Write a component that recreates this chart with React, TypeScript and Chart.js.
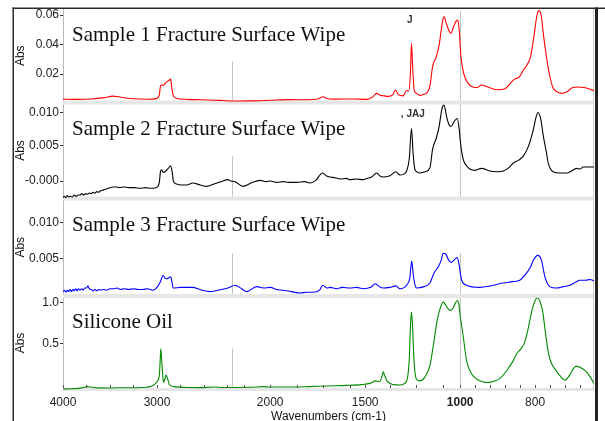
import React, { useEffect, useRef } from 'react';
import { Chart, LinearScale, registerables } from 'chart.js';

Chart.register(...registerables);

// ---------------- data ----------------
const PANEL_TITLES = [
  'Sample 1 Fracture Surface Wipe',
  'Sample 2 Fracture Surface Wipe',
  'Sample 3 Fracture Surface Wipe',
  'Silicone Oil',
];

const X_TITLE = 'Wavenumbers (cm-1)';
const Y_TITLE = 'Abs';

const X_TICKS = [4000, 3750, 3500, 3250, 3000, 2750, 2500, 2250, 2140, 2000, 1860, 1720, 1580, 1500, 1370, 1230, 1090, 1000, 960, 920, 880, 840, 800, 760, 720, 680];
const X_LABELS = [4000, 3000, 2000, 1500, 1000, 800];

const Y_TICKS = [
  [0.02, 0.04, 0.06],
  [-0.0003, 0.005, 0.01],
  [0.005, 0.01],
  [0.5, 1.0],
];
const Y_TICK_LABELS = [
  ['0.02', '0.04', '0.06'],
  ['-0.000', '0.005', '0.010'],
  ['0.005', '0.010'],
  ['0.5', '1.0'],
];
const Y_MIN = [0.00068, -0.00293, -0.00032, -0.061];
const Y_MAX = [0.06407, 0.0115, 0.01341, 1.085];

const ANNOTATIONS = [
  { panel: 0, text: 'J', wavenumber: 1280 },
  { panel: 1, text: ', JAJ', wavenumber: 1312 },
];

const SAMPLE1: [number, number][] = [
  [4000, 0.003], [3850, 0.0028], [3700, 0.0031], [3560, 0.004], [3470, 0.005], [3380, 0.0042], [3250, 0.0032],
  [3100, 0.0029], [3010, 0.0033], [2975, 0.006], [2962, 0.012], [2950, 0.0125], [2935, 0.0122], [2900, 0.0145],
  [2870, 0.0158], [2855, 0.0165], [2845, 0.012], [2830, 0.006], [2810, 0.004], [2750, 0.003], [2600, 0.0026],
  [2450, 0.0024], [2300, 0.002], [2200, 0.0017], [2100, 0.0018], [2000, 0.0022], [1900, 0.0026], [1800, 0.0025],
  [1750, 0.003], [1722, 0.0046], [1705, 0.0036], [1660, 0.003], [1560, 0.0031], [1490, 0.0028], [1460, 0.0045],
  [1440, 0.0069], [1420, 0.0055], [1400, 0.0052], [1380, 0.0048], [1355, 0.006], [1340, 0.0092], [1325, 0.006],
  [1300, 0.0052], [1282, 0.0088], [1270, 0.0085], [1262, 0.02], [1256, 0.0408], [1250, 0.025], [1242, 0.009],
  [1229, 0.0069], [1212, 0.0055], [1190, 0.0062], [1170, 0.008], [1159, 0.012], [1145, 0.025], [1125, 0.032],
  [1110, 0.04], [1097, 0.052], [1085, 0.0589], [1072, 0.054], [1058, 0.049], [1048, 0.0476], [1035, 0.052],
  [1020, 0.056], [1012, 0.0566], [1005, 0.05], [998, 0.032], [990, 0.02], [980, 0.014], [965, 0.011],
  [955, 0.0108], [943, 0.0125], [925, 0.011], [900, 0.0093], [880, 0.01], [865, 0.014], [855, 0.0165],
  [842, 0.018], [832, 0.0225], [822, 0.026], [812, 0.032], [803, 0.046], [795, 0.06], [790, 0.063],
  [784, 0.06], [778, 0.047], [770, 0.032], [762, 0.02], [753, 0.011], [740, 0.0078], [729, 0.0069],
  [715, 0.008], [700, 0.0108], [685, 0.0112], [670, 0.0108], [655, 0.0098], [643, 0.0087],
];

const SAMPLE2: [number, number][] = [
  [4000, -0.0028], [3985, -0.0026], [3970, -0.0028], [3955, -0.0025], [3940, -0.0027], [3920, -0.0026],
  [3900, -0.0027], [3880, -0.0024], [3860, -0.0026], [3840, -0.0024], [3819, -0.0024], [3800, -0.0022],
  [3780, -0.0024], [3760, -0.0022], [3740, -0.0023], [3720, -0.0021], [3700, -0.0022], [3680, -0.002],
  [3660, -0.0021], [3640, -0.0019], [3620, -0.002], [3606, -0.0018], [3580, -0.0017], [3560, -0.0016],
  [3540, -0.0015], [3500, -0.0013], [3468, -0.0012], [3430, -0.0012], [3400, -0.0013], [3350, -0.0012],
  [3300, -0.0013], [3240, -0.0013], [3181, -0.0014], [3120, -0.0013], [3074, -0.0014], [3010, -0.0013],
  [2975, -0.0005], [2962, 0.0012], [2950, 0.0014], [2935, 0.001], [2915, 0.0011], [2880, 0.0016],
  [2856, 0.002], [2840, 0.0012], [2824, -0.0004], [2800, -0.0007], [2740, -0.0009], [2684, -0.0009],
  [2617, -0.0006], [2540, -0.0009], [2471, -0.0011], [2400, -0.0008], [2320, -0.0004], [2245, -0.0001],
  [2215, -0.0003], [2185, -0.0004], [2143, -0.0011], [2100, -0.0006], [2054, -0.0002], [2020, -0.0004],
  [2000, -0.0003], [1965, -0.0005], [1933, -0.0004], [1900, -0.0005], [1860, -0.0005], [1820, -0.0004],
  [1791, -0.0006], [1760, -0.0002], [1724, 0.0009], [1705, 0.0005], [1685, 0.0003], [1660, 0.0002],
  [1630, 0.0], [1600, 0.0001], [1580, -0.0001], [1545, 0.0], [1512, -0.0001], [1490, 0.0001],
  [1466, 0.0003], [1439, 0.0009], [1420, 0.0004], [1406, 0.0003], [1370, 0.0005], [1338, 0.0011],
  [1317, 0.0006], [1300, 0.0007], [1282, 0.0012], [1268, 0.003], [1256, 0.0076], [1248, 0.004],
  [1238, 0.0014], [1229, 0.0011], [1212, 0.0009], [1185, 0.0011], [1159, 0.0017], [1145, 0.0045],
  [1125, 0.0062], [1110, 0.008], [1097, 0.0104], [1085, 0.0111], [1070, 0.0092], [1058, 0.0081],
  [1048, 0.0079], [1030, 0.0087], [1015, 0.0091], [1005, 0.0075], [999, 0.0054], [992, 0.003],
  [983, 0.002], [974, 0.0015], [960, 0.0013], [943, 0.0016], [921, 0.0012], [900, 0.0011], [885, 0.0012],
  [870, 0.0017], [858, 0.0024], [845, 0.0028], [832, 0.0034], [818, 0.0049], [805, 0.0074], [798, 0.0092],
  [792, 0.01], [785, 0.009], [778, 0.0064], [770, 0.004], [765, 0.0024], [752, 0.0011], [735, 0.0009],
  [716, 0.0009], [700, 0.0013], [689, 0.0016], [680, 0.0015], [672, 0.0018], [660, 0.0018], [643, 0.0018],
];

const SAMPLE3: [number, number][] = [
  [4000, 0.0003], [3985, 0.0005], [3970, 0.0002], [3955, 0.0005], [3940, 0.0003], [3925, 0.0006],
  [3910, 0.0003], [3895, 0.0006], [3880, 0.0004], [3865, 0.0007], [3851, 0.0004], [3835, 0.0007],
  [3820, 0.0005], [3800, 0.0007], [3785, 0.0005], [3770, 0.0008], [3750, 0.0008], [3734, 0.0011],
  [3720, 0.0007], [3700, 0.0006], [3680, 0.0004], [3660, 0.0006], [3640, 0.0004], [3620, 0.0006],
  [3600, 0.0005], [3570, 0.0006], [3540, 0.0005], [3500, 0.0007], [3460, 0.0007], [3426, 0.0008],
  [3390, 0.0006], [3350, 0.0007], [3300, 0.0006], [3250, 0.0007], [3200, 0.0006], [3150, 0.0006],
  [3100, 0.0007], [3043, 0.0005], [3000, 0.0009], [2960, 0.0018], [2936, 0.0026], [2915, 0.0022],
  [2894, 0.0021], [2870, 0.0023], [2854, 0.0024], [2840, 0.0016], [2827, 0.0008], [2750, 0.0009],
  [2617, 0.0009], [2520, 0.0005], [2436, 0.0003], [2350, 0.0005], [2245, 0.0008], [2185, 0.0012],
  [2150, 0.0007], [2124, 0.0003], [2071, 0.001], [2035, 0.0008], [2000, 0.0009], [1965, 0.0006],
  [1933, 0.0005], [1890, 0.0003], [1843, 0.0001], [1810, 0.0002], [1775, 0.0002], [1740, 0.0005],
  [1724, 0.0012], [1700, 0.0008], [1685, 0.0009], [1650, 0.0007], [1620, 0.0009], [1580, 0.0008],
  [1545, 0.0009], [1512, 0.0007], [1470, 0.0009], [1448, 0.0014], [1420, 0.0009], [1406, 0.0008],
  [1370, 0.0009], [1338, 0.0011], [1317, 0.0007], [1282, 0.0012], [1265, 0.0022], [1255, 0.0046],
  [1246, 0.0025], [1235, 0.001], [1229, 0.0008], [1190, 0.001], [1159, 0.0015], [1138, 0.0029],
  [1115, 0.0038], [1100, 0.0047], [1089, 0.0057], [1076, 0.0056], [1062, 0.0048], [1048, 0.0044],
  [1030, 0.0048], [1015, 0.0051], [1005, 0.004], [996, 0.0019], [983, 0.0012], [947, 0.0009],
  [920, 0.0011], [886, 0.0015], [860, 0.0017], [841, 0.0019], [823, 0.0029], [812, 0.0038], [805, 0.0047],
  [793, 0.0054], [783, 0.0047], [774, 0.0024], [761, 0.001], [743, 0.0008], [725, 0.001], [707, 0.0012],
  [690, 0.0017], [681, 0.0019], [665, 0.0019], [654, 0.002], [643, 0.0018],
];

const SILICONE: [number, number][] = [
  [4000, -0.049], [3900, -0.045], [3800, -0.035], [3745, -0.02], [3690, -0.028], [3638, -0.035],
  [3500, -0.036], [3319, -0.033], [3149, -0.03], [3043, -0.005], [3000, 0.04], [2975, 0.12], [2966, 0.3],
  [2960, 0.44], [2953, 0.35], [2944, 0.2], [2930, 0.03], [2915, 0.08], [2905, 0.12], [2890, 0.09],
  [2870, 0.01], [2820, -0.02], [2684, -0.03], [2543, -0.032], [2400, -0.025], [2300, -0.03], [2200, -0.03],
  [2100, -0.028], [2040, -0.02], [2000, -0.025], [1900, -0.025], [1800, -0.02], [1700, -0.012],
  [1597, -0.005], [1520, 0.005], [1475, 0.02], [1445, 0.05], [1425, 0.04], [1412, 0.1], [1405, 0.16],
  [1398, 0.12], [1385, 0.05], [1360, 0.01], [1317, 0.0], [1291, 0.02], [1268, 0.3], [1262, 0.7],
  [1256, 0.89], [1250, 0.7], [1244, 0.35], [1236, 0.12], [1225, 0.06], [1212, 0.05], [1195, 0.07],
  [1180, 0.12], [1159, 0.24], [1140, 0.5], [1120, 0.8], [1100, 0.97], [1088, 1.01], [1075, 0.97],
  [1060, 0.92], [1048, 0.91], [1035, 0.95], [1022, 1.01], [1015, 1.03], [1008, 1.0], [1000, 0.85],
  [992, 0.6], [983, 0.3], [970, 0.14], [955, 0.07], [940, 0.04], [929, 0.03], [913, 0.04], [894, 0.08],
  [875, 0.18], [858, 0.3], [848, 0.39], [838, 0.44], [828, 0.52], [818, 0.7], [808, 0.92], [800, 1.03],
  [795, 1.06], [788, 1.03], [780, 0.9], [772, 0.62], [765, 0.4], [758, 0.28], [748, 0.2], [735, 0.12],
  [720, 0.06], [708, 0.12], [698, 0.2], [690, 0.23], [678, 0.21], [663, 0.16], [652, 0.09], [643, 0.02],
];

const SERIES = [SAMPLE1, SAMPLE2, SAMPLE3, SILICONE];
const COLORS = ['#ff0000', '#000000', '#0000ff', '#008a00'];

// ---------------- split wavenumber scale ----------------
const X_MIN = 643;
const X_MAX = 4000;
const SEGMENTS = [
  { from: 4000, to: 2200, density: 0.094 },
  { from: 2200, to: 1000, density: 0.19 },
  { from: 1000, to: 643, density: 0.375 },
];

function toU(w: number): number {
  let u = 0;
  for (let i = 0; i < SEGMENTS.length; i++) {
    const s = SEGMENTS[i];
    if (w >= s.to || i === SEGMENTS.length - 1) return u + (s.from - w) * s.density;
    u += (s.from - s.to) * s.density;
  }
  return u;
}
function fromU(u: number): number {
  for (let i = 0; i < SEGMENTS.length; i++) {
    const s = SEGMENTS[i];
    const len = (s.from - s.to) * s.density;
    if (u <= len || i === SEGMENTS.length - 1) return s.from - u / s.density;
    u -= len;
  }
  return X_MIN;
}

class PiecewiseScale extends LinearScale {
  static id = 'piecewise';
  static defaults = LinearScale.defaults;
  getPixelForValue(value: number) {
    const u0 = toU(this.max);
    const u1 = toU(this.min);
    return this.getPixelForDecimal((toU(value) - u0) / (u1 - u0));
  }
  getValueForPixel(pixel: number) {
    const u0 = toU(this.max);
    const u1 = toU(this.min);
    return fromU(u0 + this.getDecimalForPixel(pixel) * (u1 - u0));
  }
}
Chart.register(PiecewiseScale as any);

const PANEL_IDS = ['y1', 'y2', 'y3', 'y4'];
const PANEL_WEIGHTS = [93.5, 96, 97.5, 94];
const BREAK_START = 0.56;

const decor = {
  id: 'decor',
  beforeDatasetsDraw(chart: any) {
    const { ctx, chartArea, scales } = chart;
    const x = scales.x;
    ctx.save();
    ctx.fillStyle = '#e6e6e6';
    PANEL_IDS.forEach((id, i) => {
      const s = scales[id];
      if (i < PANEL_IDS.length - 1) ctx.fillRect(chartArea.left, s.bottom - 2, chartArea.right - chartArea.left, 4);
    });
    ctx.fillRect(chartArea.left, chartArea.bottom - 2, chartArea.right - chartArea.left, 3);
    ctx.strokeStyle = '#c4c4c4';
    ctx.lineWidth = 1;
    const p2200 = Math.round(x.getPixelForValue(2200)) + 0.5;
    const p1000 = Math.round(x.getPixelForValue(1000)) + 0.5;
    PANEL_IDS.forEach((id, i) => {
      const s = scales[id];
      const h = s.bottom - s.top;
      ctx.beginPath();
      ctx.moveTo(p2200, s.top + h * BREAK_START);
      ctx.lineTo(p2200, s.bottom - 2);
      ctx.moveTo(p1000, s.top + (i === 2 ? h * BREAK_START : 2));
      ctx.lineTo(p1000, s.bottom - 2);
      ctx.stroke();
    });
    ctx.strokeStyle = '#d0d0d0';
    ctx.beginPath();
    ctx.moveTo(chartArea.right - 0.5, chartArea.top);
    ctx.lineTo(chartArea.right - 0.5, chartArea.bottom);
    ctx.stroke();
    ctx.restore();
  },
  afterDraw(chart: any) {
    const { ctx, chartArea, scales } = chart;
    const x = scales.x;
    ctx.save();
    // inward tick marks on the wavenumber axis
    ctx.strokeStyle = '#555';
    ctx.lineWidth = 1;
    ctx.beginPath();
    X_TICKS.forEach((v) => {
      const px = Math.round(x.getPixelForValue(v)) + 0.5;
      ctx.moveTo(px, chartArea.bottom - 2);
      ctx.lineTo(px, chartArea.bottom - 5);
    });
    ctx.stroke();
    // panel titles
    ctx.fillStyle = '#111';
    ctx.font = '21px "Liberation Serif", "Times New Roman", serif';
    ctx.textBaseline = 'alphabetic';
    ctx.textAlign = 'left';
    PANEL_IDS.forEach((id, i) => {
      const s = scales[id];
      ctx.fillText(PANEL_TITLES[i], chartArea.left + 9, s.top + 32);
    });
    // small annotations
    ctx.fillStyle = '#333';
    ctx.font = 'bold 10px "Liberation Sans", Arial, sans-serif';
    ANNOTATIONS.forEach((a) => {
      const s = scales[PANEL_IDS[a.panel]];
      ctx.fillText(a.text, x.getPixelForValue(a.wavenumber), s.top + 14);
    });
    // frame
    ctx.fillStyle = '#2a2a2a';
    ctx.fillRect(12.5, 7.5, 1.5, chart.height - 7.5);
    ctx.fillRect(12.5, 7.5, chart.width - 10, 1.5);
    ctx.fillStyle = '#222';
    ctx.fillRect(chartArea.right + 1, 7.5, 3, chart.height - 7.5);
    ctx.restore();
  },
};

function yScale(i: number) {
  return {
    type: 'linear',
    position: 'left',
    stack: 'panels',
    stackWeight: PANEL_WEIGHTS[i],
    weight: PANEL_IDS.length - i,
    min: Y_MIN[i],
    max: Y_MAX[i],
    afterBuildTicks: (s: any) => {
      s.ticks = Y_TICKS[i].map((v) => ({ value: v }));
    },
    afterFit: (s: any) => {
      s.width = 63;
      s.paddingTop = 0;
      s.paddingBottom = 0;
    },
    ticks: {
      callback: (_v: any, idx: number) => Y_TICK_LABELS[i][idx],
      color: '#222',
      font: { size: 12 },
      padding: 1,
    },
    grid: { drawOnChartArea: false, tickLength: 3, color: '#333' },
    border: { color: '#b8b8b8', dash: [1, 1] },
    title: { display: true, text: Y_TITLE, color: '#111', font: { size: 12 }, padding: { top: 13, bottom: 0 } },
  };
}

export default function App() {
  const ref = useRef<HTMLCanvasElement>(null);
  useEffect(() => {
    if (!ref.current) return;
    Chart.defaults.font.family = '"Liberation Sans", Arial, sans-serif';
    const scales: any = {
      x: {
        type: 'piecewise',
        position: 'bottom',
        min: X_MIN,
        max: X_MAX,
        afterBuildTicks: (s: any) => {
          s.ticks = X_TICKS.map((v) => ({ value: v }));
        },
        afterFit: (s: any) => {
          s.height = 31;
          s.paddingLeft = 0;
          s.paddingRight = 0;
        },
        ticks: {
          autoSkip: false,
          maxRotation: 0,
          minRotation: 0,
          padding: 5,
          color: '#222',
          callback: (v: number) => (X_LABELS.includes(v) ? String(v) : ''),
          font: (c: any) => ({ size: 12, weight: c.tick && c.tick.value === 1000 ? 'bold' : 'normal' }),
        },
        grid: { display: false, drawTicks: false },
        border: { display: false },
        title: { display: true, text: X_TITLE, color: '#111', font: { size: 12 }, padding: { top: 0, bottom: -3 } },
      },
    };
    PANEL_IDS.forEach((id, i) => {
      scales[id] = yScale(i);
    });
    const chart = new Chart(ref.current, {
      type: 'line',
      data: {
        datasets: SERIES.map((s, i) => ({
          label: PANEL_TITLES[i],
          data: s.map(([wn, a]) => ({ x: wn, y: a })),
          xAxisID: 'x',
          yAxisID: PANEL_IDS[i],
          borderColor: COLORS[i],
          borderWidth: 1.1,
          pointRadius: 0,
          cubicInterpolationMode: 'monotone',
          fill: false,
        })),
      },
      options: {
        responsive: false,
        animation: false,
        layout: { padding: { top: 9, right: 11, bottom: 0, left: 0 } },
        scales,
        plugins: { legend: { display: false }, tooltip: { enabled: false } },
      } as any,
      plugins: [decor],
    } as any);
    return () => chart.destroy();
  }, []);
  return (
    <div style={{ position: 'absolute', left: 0, top: 0, width: 605, height: 421, background: '#fff' }}>
      <canvas ref={ref} width={605} height={421} style={{ display: 'block', width: 605, height: 421 }} />
    </div>
  );
}
